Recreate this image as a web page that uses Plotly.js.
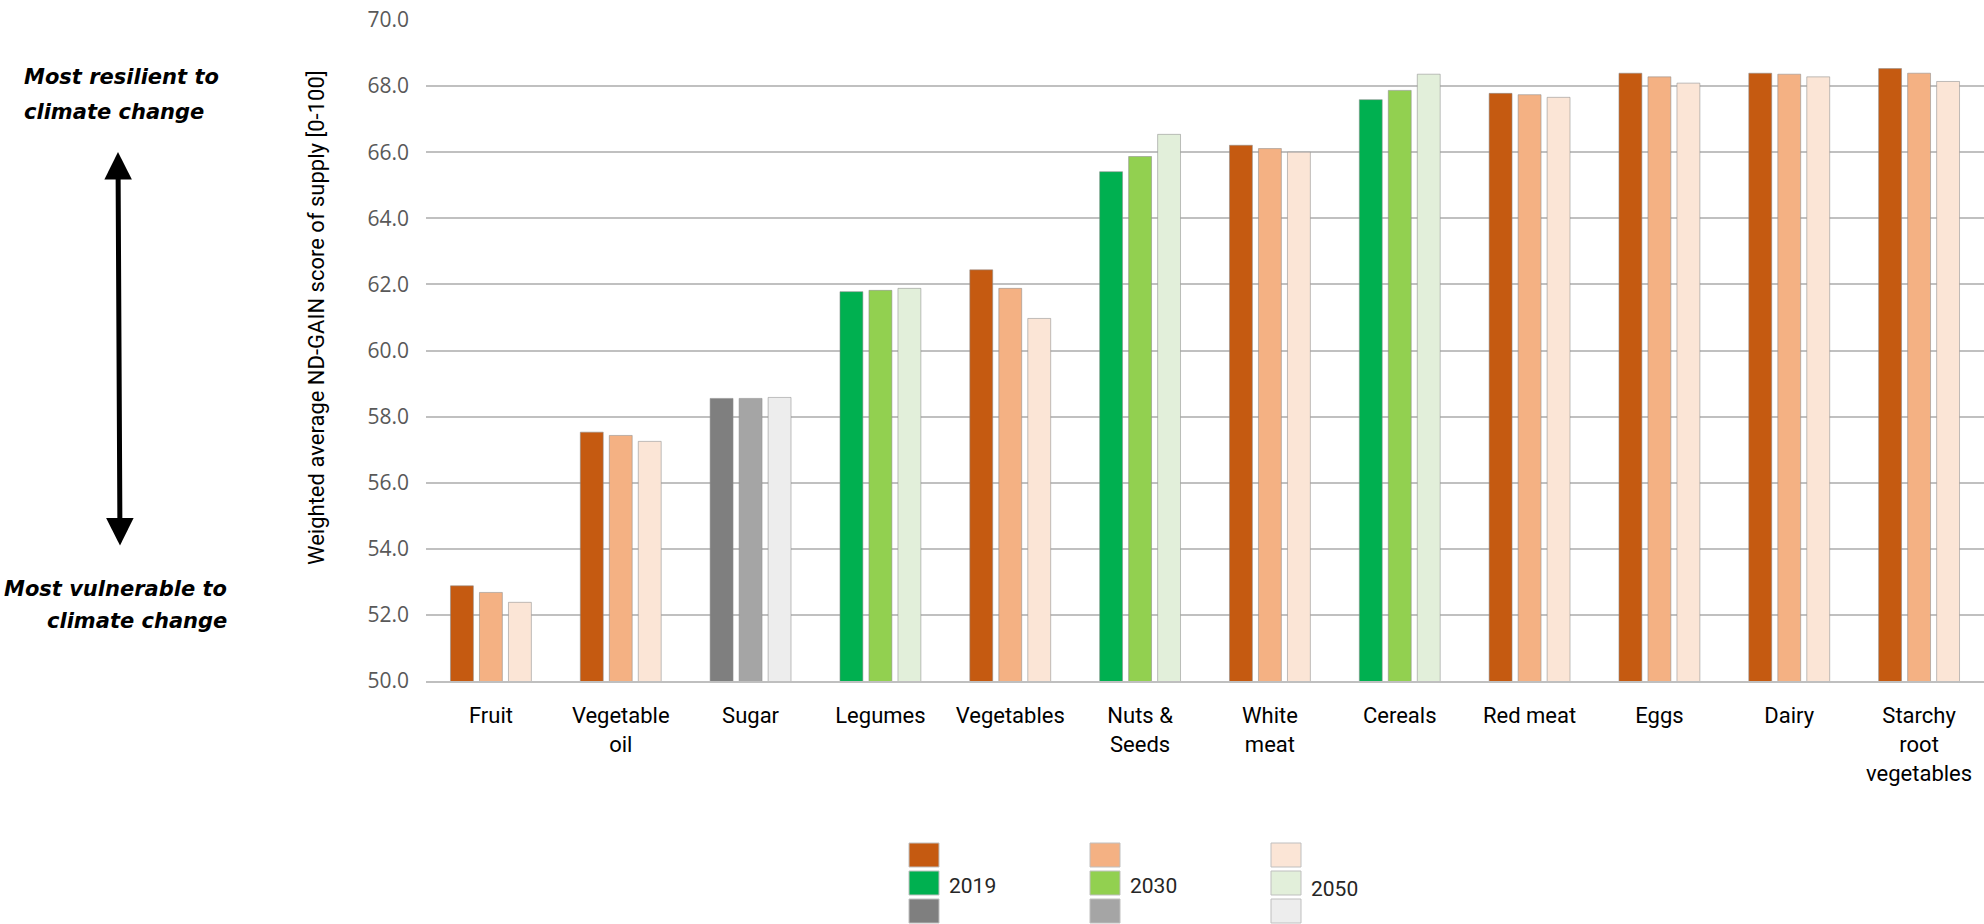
<!DOCTYPE html>
<html>
<head>
<meta charset="utf-8">
<script src="https://cdn.plot.ly/plotly-3.0.1.min.js"></script>
<style>html,body{margin:0;padding:0;background:#fff;}#chart{width:1984px;height:924px;}</style>
</head>
<body>
<div id="chart"></div>
<script>
// ---- data ----
const categories = ["Fruit", "Vegetable<br>oil", "Sugar", "Legumes", "Vegetables", "Nuts &<br>Seeds", "White<br>meat", "Cereals", "Red meat", "Eggs", "Dairy", "Starchy<br>root<br>vegetables"];
const colourGroup = ["orange", "orange", "gray", "green", "orange", "green", "orange", "green", "orange", "orange", "orange", "orange"];
const years = ["2019", "2030", "2050"];
const v2019 = [52.88, 57.53, 58.55, 61.78, 62.44, 65.41, 66.21, 67.59, 67.78, 68.39, 68.39, 68.53];
const v2030 = [52.68, 57.43, 58.55, 61.82, 61.88, 65.87, 66.11, 67.87, 67.74, 68.28, 68.36, 68.39];
const v2050 = [52.38, 57.25, 58.58, 61.88, 60.97, 66.54, 66.00, 68.36, 67.66, 68.09, 68.28, 68.14];
const yTitle = "Weighted average ND-GAIN score of supply [0-100]";

// ---- styles ----
const palette = {
  orange: ["#C55A11", "#F4B183", "#FBE5D6"],
  green:  ["#00B050", "#92D050", "#E2EFDA"],
  gray:   ["#7F7F7F", "#A5A5A5", "#EDEDED"]
};
const W = 1984, H = 924;
const L = 426, R = 0, T = 20, B = 243;
const pw = W - L - R, ph = H - T - B;
const px = x => (x - L) / pw;
const py = y => (H - B - y) / ph;

const series = [v2019, v2030, v2050];
const traces = series.map((vals, i) => ({
  type: "bar",
  name: years[i],
  x: categories,
  y: vals,
  marker: {
    color: colourGroup.map(g => palette[g][i]),
    line: {color: "rgba(140,140,140,0.55)", width: 1}
  },
  hoverinfo: "skip"
}));

const shapes = [];
const annotations = [];
// legend (3 columns x 3 colour rows)
const legCols = [909, 1090, 1271];
const legRows = [843, 871, 899];
const legLabelX = [947, 1128, 1309];
const legLabelY = [886, 886, 889];
const rowsOrder = ["orange", "green", "gray"];
years.forEach((yr, c) => {
  rowsOrder.forEach((g, r) => {
    shapes.push({type: "rect", xref: "paper", yref: "paper",
      x0: px(legCols[c]), x1: px(legCols[c] + 30),
      y0: py(legRows[r]), y1: py(legRows[r] + 24),
      fillcolor: palette[g][c], line: {color: "#BFBFBF", width: 1}});
  });
  annotations.push({xref: "paper", yref: "paper", x: px(legLabelX[c]), y: py(legLabelY[c]),
    xanchor: "left", yanchor: "middle", text: yr, showarrow: false,
    font: {family: "Roboto, sans-serif", size: 21, color: "#262626"}});
});

// y-axis title
annotations.push({xref: "paper", yref: "paper", x: px(316), y: py(318), text: yTitle,
  textangle: -90, showarrow: false, xanchor: "center", yanchor: "middle",
  font: {family: "Roboto, sans-serif", size: 22, color: "#000"}});

// side notes
const noteFont = {family: "DejaVu Sans, sans-serif", size: 21, color: "#000"};
annotations.push({xref: "paper", yref: "paper", x: px(22), y: py(77), xanchor: "left", yanchor: "middle",
  text: "<b><i>Most resilient to</i></b>", showarrow: false, font: noteFont});
annotations.push({xref: "paper", yref: "paper", x: px(22), y: py(112), xanchor: "left", yanchor: "middle",
  text: "<b><i>climate change</i></b>", showarrow: false, font: noteFont});
annotations.push({xref: "paper", yref: "paper", x: px(229), y: py(589), xanchor: "right", yanchor: "middle",
  text: "<b><i>Most vulnerable to</i></b>", showarrow: false, font: noteFont});
annotations.push({xref: "paper", yref: "paper", x: px(229), y: py(621), xanchor: "right", yanchor: "middle",
  text: "<b><i>climate change</i></b>", showarrow: false, font: noteFont});

// double arrow (single annotation, heads on both ends)
annotations.push({xref: "paper", yref: "paper", x: px(118), y: py(152),
  axref: "pixel", ayref: "pixel", ax: 2, ay: 395,
  text: "", showarrow: true, arrowside: "end+start", arrowhead: 2, startarrowhead: 2,
  arrowsize: 1.1, startarrowsize: 1.1, arrowwidth: 5, arrowcolor: "#000"});

const layout = {
  width: W, height: H,
  margin: {l: L, r: R, t: T, b: B, pad: 0},
  paper_bgcolor: "#fff", plot_bgcolor: "#fff",
  barmode: "group", bargap: 0.33, bargroupgap: 0.21,
  showlegend: false,
  xaxis: {
    type: "category", showgrid: false, showline: true, linecolor: "#BFBFBF", linewidth: 2,
    ticks: "", ticklabelstandoff: 14, tickangle: 0,
    tickfont: {family: "Roboto, sans-serif", size: 22, color: "#000"}
  },
  yaxis: {
    range: [50, 70], dtick: 2, tick0: 50, tickformat: ".1f",
    showgrid: true, gridcolor: "#C0C0C0", gridwidth: 2, zeroline: false, showline: false,
    ticks: "", ticklabelstandoff: 16,
    tickfont: {family: "Open Sans, sans-serif", size: 21, color: "#595959"}
  },
  shapes: shapes,
  annotations: annotations
};

Plotly.newPlot("chart", traces, layout, {staticPlot: true, displayModeBar: false});
</script>
</body>
</html>
